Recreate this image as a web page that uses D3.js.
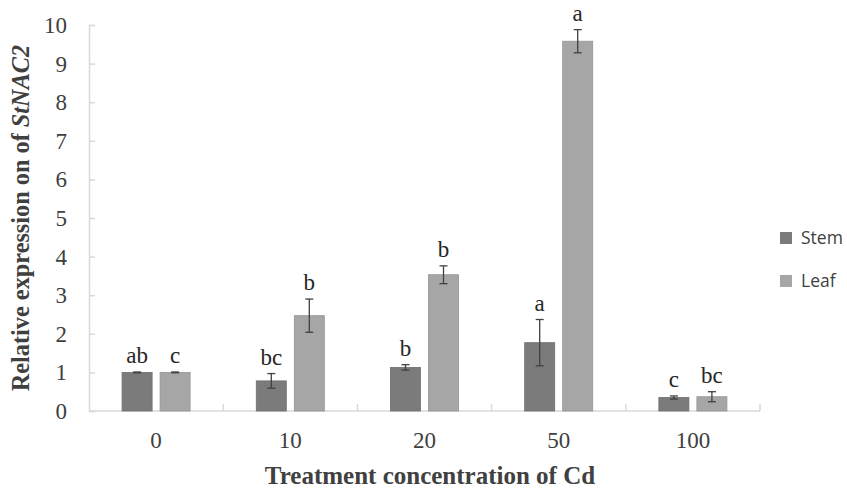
<!DOCTYPE html>
<html>
<head>
<meta charset="utf-8">
<script src="https://d3js.org/d3.v7.min.js"></script>
<style>
    body { margin: 0; background: #fff; }
    svg { display: block; }
</style>
</head>
<body>
<svg id="chart"></svg>
<script>
    var categories = ["0", "10", "20", "50", "100"];
    var series = ["Stem", "Leaf"];
    var stemValues = [1.0, 0.78, 1.13, 1.77, 0.35];
    var stemErrors = [0.01, 0.19, 0.07, 0.6, 0.04];
    var stemLetters = ["ab", "bc", "b", "a", "c"];
    var leafValues = [1.0, 2.47, 3.53, 9.58, 0.37];
    var leafErrors = [0.01, 0.43, 0.23, 0.3, 0.13];
    var leafLetters = ["c", "b", "b", "a", "bc"];
    var yTicks = [0, 1, 2, 3, 4, 5, 6, 7, 8, 9, 10];
    var colors = { Stem: "#7b7b7b", Leaf: "#a6a6a6" };

    var width = 847, height = 488;
    var margin = { top: 25, right: 87, bottom: 77, left: 89 };
    var serif = "'Liberation Serif', 'Times New Roman', serif";

    var svg = d3.select("#chart")
        .attr("width", width)
        .attr("height", height);

    var x = d3.scaleBand()
        .domain(categories)
        .range([margin.left, width - margin.right]);

    var xInner = d3.scaleBand()
        .domain(series)
        .range([0, x.bandwidth()])
        .paddingInner(0.21)
        .paddingOuter(0.87);

    var y = d3.scaleLinear()
        .domain([0, 10])
        .range([height - margin.bottom, margin.top]);

    // axes
    var yAxis = svg.append("g")
        .attr("transform", "translate(" + margin.left + ",0)")
        .call(d3.axisRight(y).tickValues(yTicks).tickSize(6).tickFormat(""));
    yAxis.select(".domain").attr("stroke", "#d9d9d9").attr("stroke-width", 1.5);
    yAxis.selectAll(".tick line").attr("stroke", "#d9d9d9").attr("stroke-width", 1.5);

    svg.append("g").selectAll("text")
        .data(yTicks)
        .enter().append("text")
        .attr("x", margin.left - 22)
        .attr("y", d => y(d))
        .attr("dy", "0.35em")
        .attr("text-anchor", "end")
        .style("font-family", serif)
        .style("font-size", "23px")
        .style("fill", "#404040")
        .text(d => d);

    var xAxis = svg.append("g")
        .attr("transform", "translate(0," + y(0) + ")");
    xAxis.append("line")
        .attr("x1", margin.left).attr("x2", width - margin.right)
        .attr("stroke", "#d9d9d9").attr("stroke-width", 1.5);
    xAxis.selectAll(".xtick")
        .data(categories)
        .enter().append("line")
        .attr("x1", d => x(d) + x.bandwidth())
        .attr("x2", d => x(d) + x.bandwidth())
        .attr("y1", 0).attr("y2", -7)
        .attr("stroke", "#d9d9d9").attr("stroke-width", 1.5);
    xAxis.selectAll(".xlabel")
        .data(categories)
        .enter().append("text")
        .attr("x", d => x(d) + x.bandwidth() / 2)
        .attr("y", 37)
        .attr("text-anchor", "middle")
        .style("font-family", serif)
        .style("font-size", "23px")
        .style("fill", "#404040")
        .text(d => d);

    // bars
    var rows = categories.map((c, i) => [
        { cat: c, s: "Stem", v: stemValues[i], e: stemErrors[i], l: stemLetters[i] },
        { cat: c, s: "Leaf", v: leafValues[i], e: leafErrors[i], l: leafLetters[i] }
    ]).flat();

    var g = svg.append("g");
    g.selectAll("rect")
        .data(rows)
        .enter().append("rect")
        .attr("x", d => x(d.cat) + xInner(d.s))
        .attr("y", d => y(d.v))
        .attr("width", xInner.bandwidth())
        .attr("height", d => y(0) - y(d.v))
        .attr("fill", d => colors[d.s])
        .attr("stroke", d => d3.color(colors[d.s]).darker(0.3))
        .attr("stroke-width", 0.8);

    // error bars
    var cx = d => x(d.cat) + xInner(d.s) + xInner.bandwidth() / 2;
    var err = g.selectAll(".err")
        .data(rows)
        .enter().append("g")
        .attr("stroke", "#404040")
        .attr("stroke-width", 1.3);
    err.append("line")
        .attr("x1", cx).attr("x2", cx)
        .attr("y1", d => y(d.v + d.e)).attr("y2", d => y(d.v - d.e));
    err.append("line")
        .attr("x1", d => cx(d) - 4).attr("x2", d => cx(d) + 4)
        .attr("y1", d => y(d.v + d.e)).attr("y2", d => y(d.v + d.e));
    err.append("line")
        .attr("x1", d => cx(d) - 4).attr("x2", d => cx(d) + 4)
        .attr("y1", d => y(d.v - d.e)).attr("y2", d => y(d.v - d.e));

    // significance letters
    g.selectAll(".letter")
        .data(rows)
        .enter().append("text")
        .attr("x", cx)
        .attr("y", d => y(d.v + d.e) - 9)
        .attr("text-anchor", "middle")
        .style("font-family", serif)
        .style("font-size", "23px")
        .style("fill", "#262626")
        .text(d => d.l);

    // axis titles
    svg.append("text")
        .attr("x", 430)
        .attr("y", 484)
        .attr("text-anchor", "middle")
        .style("font-family", serif)
        .style("font-size", "25px")
        .style("font-weight", "bold")
        .style("fill", "#404040")
        .text("Treatment concentration of Cd");

    var ylab = svg.append("text")
        .attr("transform", "translate(29,218) rotate(-90)")
        .attr("text-anchor", "middle")
        .style("font-family", serif)
        .style("font-size", "24.3px")
        .style("font-weight", "bold")
        .style("fill", "#404040");
    ylab.append("tspan").text("Relative expression on of ");
    ylab.append("tspan").style("font-style", "italic").text("StNAC2");

    // legend
    var legend = svg.append("g")
        .selectAll("g")
        .data(series)
        .enter().append("g")
        .attr("transform", (d, i) => "translate(780," + (232 + i * 43) + ")");
    legend.append("rect")
        .attr("width", 12).attr("height", 12)
        .attr("fill", d => colors[d]);
    legend.append("text")
        .attr("x", 21)
        .attr("y", 6)
        .attr("dy", "0.35em")
        .style("font-family", "'Open Sans', 'Liberation Sans', sans-serif")
        .style("font-size", "17.5px")
        .style("fill", "#404040")
        .text(d => d);
</script>
</body>
</html>
